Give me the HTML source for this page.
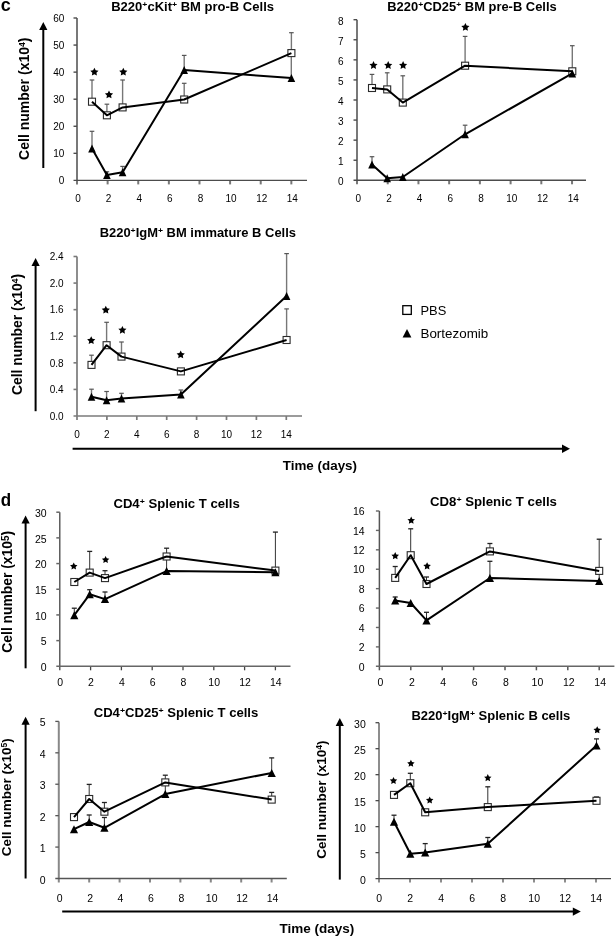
<!DOCTYPE html>
<html><head><meta charset="utf-8"><title>Figure</title>
<style>
html,body{margin:0;padding:0;background:#fff;}
body{width:616px;height:937px;overflow:hidden;}
svg{display:block;filter:blur(0.3px);}
text{font-family:"Liberation Sans", sans-serif;fill:#000;}
.tk{font-size:10px;}
.ti{font-size:12px;font-weight:bold;}
.sp{font-size:8px;}
.yl{font-size:13px;font-weight:bold;}
.se{font-size:8.5px;}
.pl{font-size:18px;font-weight:bold;}
.tt{font-size:13px;font-weight:bold;}
.lg{font-size:13.5px;}
</style></head>
<body>
<svg width="616" height="937" viewBox="0 0 616 937">
<rect width="616" height="937" fill="#fff"/>
<text x="0.7" y="10.7" class="pl">c</text>
<text x="0.7" y="505.7" class="pl" textLength="10.4" lengthAdjust="spacingAndGlyphs">d</text>
<g stroke="#787878" stroke-width="2" fill="none">
<path d="M77 18 V184.4"/>
<path d="M107.62 180.4 V184.4"/>
<path d="M138.24 180.4 V184.4"/>
<path d="M168.86 180.4 V184.4"/>
<path d="M199.48 180.4 V184.4"/>
<path d="M230.1 180.4 V184.4"/>
<path d="M260.72 180.4 V184.4"/>
<path d="M291.34 180.4 V184.4"/>
</g>
<g stroke="#4c4c4c" stroke-width="1.4" fill="none">
<path d="M73.5 180.4 H307"/>
<path d="M73.5 153.33 H77"/>
<path d="M73.5 126.27 H77"/>
<path d="M73.5 99.2 H77"/>
<path d="M73.5 72.13 H77"/>
<path d="M73.5 45.07 H77"/>
<path d="M73.5 18 H77"/>
</g>
<text x="64.3" y="184.2" text-anchor="end" class="tk" style="font-size:10px">0</text>
<text x="64.3" y="157.13" text-anchor="end" class="tk" style="font-size:10px">10</text>
<text x="64.3" y="130.07" text-anchor="end" class="tk" style="font-size:10px">20</text>
<text x="64.3" y="103" text-anchor="end" class="tk" style="font-size:10px">30</text>
<text x="64.3" y="75.93" text-anchor="end" class="tk" style="font-size:10px">40</text>
<text x="64.3" y="48.87" text-anchor="end" class="tk" style="font-size:10px">50</text>
<text x="64.3" y="21.8" text-anchor="end" class="tk" style="font-size:10px">60</text>
<text x="78" y="202" text-anchor="middle" class="tk" style="font-size:10px">0</text>
<text x="108.62" y="202" text-anchor="middle" class="tk" style="font-size:10px">2</text>
<text x="139.24" y="202" text-anchor="middle" class="tk" style="font-size:10px">4</text>
<text x="169.86" y="202" text-anchor="middle" class="tk" style="font-size:10px">6</text>
<text x="200.48" y="202" text-anchor="middle" class="tk" style="font-size:10px">8</text>
<text x="231.1" y="202" text-anchor="middle" class="tk" style="font-size:10px">10</text>
<text x="261.72" y="202" text-anchor="middle" class="tk" style="font-size:10px">12</text>
<text x="292.34" y="202" text-anchor="middle" class="tk" style="font-size:10px">14</text>
<line x1="92" y1="101.7" x2="92" y2="80" stroke="#777" stroke-width="1.4"/><line x1="89.7" y1="80" x2="94.3" y2="80" stroke="#555" stroke-width="1.2"/>
<line x1="106.9" y1="115.3" x2="106.9" y2="104.2" stroke="#777" stroke-width="1.4"/><line x1="104.6" y1="104.2" x2="109.2" y2="104.2" stroke="#555" stroke-width="1.2"/>
<line x1="122.6" y1="107.4" x2="122.6" y2="80" stroke="#777" stroke-width="1.4"/><line x1="120.3" y1="80" x2="124.9" y2="80" stroke="#555" stroke-width="1.2"/>
<line x1="184.2" y1="99.5" x2="184.2" y2="83.3" stroke="#777" stroke-width="1.4"/><line x1="181.9" y1="83.3" x2="186.5" y2="83.3" stroke="#555" stroke-width="1.2"/>
<line x1="291.4" y1="53.1" x2="291.4" y2="32.7" stroke="#777" stroke-width="1.4"/><line x1="289.1" y1="32.7" x2="293.7" y2="32.7" stroke="#555" stroke-width="1.2"/>
<line x1="92" y1="148.6" x2="92" y2="131.3" stroke="#777" stroke-width="1.4"/><line x1="89.7" y1="131.3" x2="94.3" y2="131.3" stroke="#555" stroke-width="1.2"/>
<line x1="106.9" y1="175.1" x2="106.9" y2="171.8" stroke="#777" stroke-width="1.4"/><line x1="104.6" y1="171.8" x2="109.2" y2="171.8" stroke="#555" stroke-width="1.2"/>
<line x1="122.6" y1="172.3" x2="122.6" y2="166.4" stroke="#777" stroke-width="1.4"/><line x1="120.3" y1="166.4" x2="124.9" y2="166.4" stroke="#555" stroke-width="1.2"/>
<line x1="184.2" y1="70" x2="184.2" y2="55.4" stroke="#777" stroke-width="1.4"/><line x1="181.9" y1="55.4" x2="186.5" y2="55.4" stroke="#555" stroke-width="1.2"/>
<line x1="291.3" y1="53" x2="291.3" y2="76" stroke="#777" stroke-width="1.4"/>
<rect x="88.5" y="98.2" width="7" height="7" fill="#fff" stroke="#2a2a2a" stroke-width="1.1"/>
<rect x="103.4" y="111.8" width="7" height="7" fill="#fff" stroke="#2a2a2a" stroke-width="1.1"/>
<rect x="119.1" y="103.9" width="7" height="7" fill="#fff" stroke="#2a2a2a" stroke-width="1.1"/>
<rect x="180.7" y="96" width="7" height="7" fill="#fff" stroke="#2a2a2a" stroke-width="1.1"/>
<rect x="287.9" y="49.6" width="7" height="7" fill="#fff" stroke="#2a2a2a" stroke-width="1.1"/>
<polyline points="92,101.7 106.9,115.3 122.6,107.4 184.2,99.5 291.4,53.1" fill="none" stroke="#000" stroke-width="2" stroke-linejoin="round"/>
<polyline points="92,148.6 106.9,175.1 122.6,172.3 184.2,70 291.4,78" fill="none" stroke="#000" stroke-width="2" stroke-linejoin="round"/>
<polygon points="92,144.6 88.2,152.6 95.8,152.6" fill="#000"/>
<polygon points="106.9,171.1 103.1,179.1 110.7,179.1" fill="#000"/>
<polygon points="122.6,168.3 118.8,176.3 126.4,176.3" fill="#000"/>
<polygon points="184.2,66 180.4,74 188,74" fill="#000"/>
<polygon points="291.4,74 287.6,82 295.2,82" fill="#000"/>
<polygon points="94.4,67.7 95.66,70.26 98.49,70.67 96.44,72.66 96.93,75.48 94.4,74.15 91.87,75.48 92.36,72.66 90.31,70.67 93.14,70.26" fill="#000"/>
<polygon points="109,90.5 110.26,93.06 113.09,93.47 111.04,95.46 111.53,98.28 109,96.95 106.47,98.28 106.96,95.46 104.91,93.47 107.74,93.06" fill="#000"/>
<polygon points="123.3,67.7 124.56,70.26 127.39,70.67 125.34,72.66 125.83,75.48 123.3,74.15 120.77,75.48 121.26,72.66 119.21,70.67 122.04,70.26" fill="#000"/>
<text x="111.2" y="11" class="ti" textLength="162.8" lengthAdjust="spacingAndGlyphs">B220<tspan class="sp" dy="-4">+</tspan><tspan dy="4">cKit</tspan><tspan class="sp" dy="-4">+</tspan><tspan dy="4"> BM pro-B Cells</tspan></text>
<g stroke="#787878" stroke-width="2" fill="none">
<path d="M357 19.7 V184.3"/>
<path d="M387.72 180.3 V184.3"/>
<path d="M418.44 180.3 V184.3"/>
<path d="M449.16 180.3 V184.3"/>
<path d="M479.88 180.3 V184.3"/>
<path d="M510.6 180.3 V184.3"/>
<path d="M541.32 180.3 V184.3"/>
<path d="M572.04 180.3 V184.3"/>
</g>
<g stroke="#4c4c4c" stroke-width="1.4" fill="none">
<path d="M353.5 180.3 H586"/>
<path d="M353.5 160.23 H357"/>
<path d="M353.5 140.15 H357"/>
<path d="M353.5 120.08 H357"/>
<path d="M353.5 100 H357"/>
<path d="M353.5 79.92 H357"/>
<path d="M353.5 59.85 H357"/>
<path d="M353.5 39.77 H357"/>
<path d="M353.5 19.7 H357"/>
</g>
<text x="343.5" y="185.4" text-anchor="end" class="tk" style="font-size:10px">0</text>
<text x="343.5" y="165.33" text-anchor="end" class="tk" style="font-size:10px">1</text>
<text x="343.5" y="145.25" text-anchor="end" class="tk" style="font-size:10px">2</text>
<text x="343.5" y="125.17" text-anchor="end" class="tk" style="font-size:10px">3</text>
<text x="343.5" y="105.1" text-anchor="end" class="tk" style="font-size:10px">4</text>
<text x="343.5" y="85.02" text-anchor="end" class="tk" style="font-size:10px">5</text>
<text x="343.5" y="64.95" text-anchor="end" class="tk" style="font-size:10px">6</text>
<text x="343.5" y="44.87" text-anchor="end" class="tk" style="font-size:10px">7</text>
<text x="343.5" y="24.8" text-anchor="end" class="tk" style="font-size:10px">8</text>
<text x="358.2" y="201.8" text-anchor="middle" class="tk" style="font-size:10px">0</text>
<text x="388.92" y="201.8" text-anchor="middle" class="tk" style="font-size:10px">2</text>
<text x="419.64" y="201.8" text-anchor="middle" class="tk" style="font-size:10px">4</text>
<text x="450.36" y="201.8" text-anchor="middle" class="tk" style="font-size:10px">6</text>
<text x="481.08" y="201.8" text-anchor="middle" class="tk" style="font-size:10px">8</text>
<text x="511.8" y="201.8" text-anchor="middle" class="tk" style="font-size:10px">10</text>
<text x="542.52" y="201.8" text-anchor="middle" class="tk" style="font-size:10px">12</text>
<text x="573.24" y="201.8" text-anchor="middle" class="tk" style="font-size:10px">14</text>
<line x1="372" y1="88" x2="372" y2="74.4" stroke="#777" stroke-width="1.4"/><line x1="369.7" y1="74.4" x2="374.3" y2="74.4" stroke="#555" stroke-width="1.2"/>
<line x1="387.2" y1="89.4" x2="387.2" y2="72.8" stroke="#777" stroke-width="1.4"/><line x1="384.9" y1="72.8" x2="389.5" y2="72.8" stroke="#555" stroke-width="1.2"/>
<line x1="402.8" y1="102.6" x2="402.8" y2="75.8" stroke="#777" stroke-width="1.4"/><line x1="400.5" y1="75.8" x2="405.1" y2="75.8" stroke="#555" stroke-width="1.2"/>
<line x1="465.1" y1="65.7" x2="465.1" y2="36.4" stroke="#777" stroke-width="1.4"/><line x1="462.8" y1="36.4" x2="467.4" y2="36.4" stroke="#555" stroke-width="1.2"/>
<line x1="572.3" y1="71.3" x2="572.3" y2="45.7" stroke="#777" stroke-width="1.4"/><line x1="570" y1="45.7" x2="574.6" y2="45.7" stroke="#555" stroke-width="1.2"/>
<line x1="372" y1="164.6" x2="372" y2="156.7" stroke="#777" stroke-width="1.4"/><line x1="369.7" y1="156.7" x2="374.3" y2="156.7" stroke="#555" stroke-width="1.2"/>
<line x1="465.1" y1="134.3" x2="465.1" y2="125.2" stroke="#777" stroke-width="1.4"/><line x1="462.8" y1="125.2" x2="467.4" y2="125.2" stroke="#555" stroke-width="1.2"/>
<rect x="368.5" y="84.5" width="7" height="7" fill="#fff" stroke="#2a2a2a" stroke-width="1.1"/>
<rect x="383.7" y="85.9" width="7" height="7" fill="#fff" stroke="#2a2a2a" stroke-width="1.1"/>
<rect x="399.3" y="99.1" width="7" height="7" fill="#fff" stroke="#2a2a2a" stroke-width="1.1"/>
<rect x="461.6" y="62.2" width="7" height="7" fill="#fff" stroke="#2a2a2a" stroke-width="1.1"/>
<rect x="568.8" y="67.8" width="7" height="7" fill="#fff" stroke="#2a2a2a" stroke-width="1.1"/>
<polyline points="372,88 387.2,89.4 402.8,102.6 465.1,65.7 572.3,71.3" fill="none" stroke="#000" stroke-width="2" stroke-linejoin="round"/>
<polyline points="372,164.6 387.2,178.2 402.8,177 465.1,134.3 572.3,73.4" fill="none" stroke="#000" stroke-width="2" stroke-linejoin="round"/>
<polygon points="372,160.6 368.2,168.6 375.8,168.6" fill="#000"/>
<polygon points="387.2,174.2 383.4,182.2 391,182.2" fill="#000"/>
<polygon points="402.8,173 399,181 406.6,181" fill="#000"/>
<polygon points="465.1,130.3 461.3,138.3 468.9,138.3" fill="#000"/>
<polygon points="572.3,69.4 568.5,77.4 576.1,77.4" fill="#000"/>
<polygon points="373.5,61.1 374.76,63.66 377.59,64.07 375.54,66.06 376.03,68.88 373.5,67.55 370.97,68.88 371.46,66.06 369.41,64.07 372.24,63.66" fill="#000"/>
<polygon points="388.2,61.1 389.46,63.66 392.29,64.07 390.24,66.06 390.73,68.88 388.2,67.55 385.67,68.88 386.16,66.06 384.11,64.07 386.94,63.66" fill="#000"/>
<polygon points="403.1,61.1 404.36,63.66 407.19,64.07 405.14,66.06 405.63,68.88 403.1,67.55 400.57,68.88 401.06,66.06 399.01,64.07 401.84,63.66" fill="#000"/>
<polygon points="465.4,23 466.66,25.56 469.49,25.97 467.44,27.96 467.93,30.78 465.4,29.45 462.87,30.78 463.36,27.96 461.31,25.97 464.14,25.56" fill="#000"/>
<text x="387.3" y="11" class="ti" textLength="169.4" lengthAdjust="spacingAndGlyphs">B220<tspan class="sp" dy="-4">+</tspan><tspan dy="4">CD25</tspan><tspan class="sp" dy="-4">+</tspan><tspan dy="4"> BM pre-B Cells</tspan></text>
<g stroke="#7a7a7a" stroke-width="1.7" fill="none">
<path d="M77 256.5 V420"/>
<path d="M106.9 416 V420"/>
<path d="M136.8 416 V420"/>
<path d="M166.7 416 V420"/>
<path d="M196.6 416 V420"/>
<path d="M226.5 416 V420"/>
<path d="M256.4 416 V420"/>
<path d="M286.3 416 V420"/>
</g>
<g stroke="#7a7a7a" stroke-width="1.6" fill="none">
<path d="M73.5 416 H302"/>
<path d="M73.5 389.42 H77"/>
<path d="M73.5 362.83 H77"/>
<path d="M73.5 336.25 H77"/>
<path d="M73.5 309.67 H77"/>
<path d="M73.5 283.08 H77"/>
<path d="M73.5 256.5 H77"/>
</g>
<text x="63.6" y="419.8" text-anchor="end" class="tk" style="font-size:10px">0.0</text>
<text x="63.6" y="393.22" text-anchor="end" class="tk" style="font-size:10px">0.4</text>
<text x="63.6" y="366.63" text-anchor="end" class="tk" style="font-size:10px">0.8</text>
<text x="63.6" y="340.05" text-anchor="end" class="tk" style="font-size:10px">1.2</text>
<text x="63.6" y="313.47" text-anchor="end" class="tk" style="font-size:10px">1.6</text>
<text x="63.6" y="286.88" text-anchor="end" class="tk" style="font-size:10px">2.0</text>
<text x="63.6" y="260.3" text-anchor="end" class="tk" style="font-size:10px">2.4</text>
<text x="77" y="438.1" text-anchor="middle" class="tk" style="font-size:10px">0</text>
<text x="106.9" y="438.1" text-anchor="middle" class="tk" style="font-size:10px">2</text>
<text x="136.8" y="438.1" text-anchor="middle" class="tk" style="font-size:10px">4</text>
<text x="166.7" y="438.1" text-anchor="middle" class="tk" style="font-size:10px">6</text>
<text x="196.6" y="438.1" text-anchor="middle" class="tk" style="font-size:10px">8</text>
<text x="226.5" y="438.1" text-anchor="middle" class="tk" style="font-size:10px">10</text>
<text x="256.4" y="438.1" text-anchor="middle" class="tk" style="font-size:10px">12</text>
<text x="286.3" y="438.1" text-anchor="middle" class="tk" style="font-size:10px">14</text>
<line x1="91.5" y1="364.9" x2="91.5" y2="355.2" stroke="#777" stroke-width="1.4"/><line x1="89.2" y1="355.2" x2="93.8" y2="355.2" stroke="#555" stroke-width="1.2"/>
<line x1="106.6" y1="345.2" x2="106.6" y2="322.3" stroke="#777" stroke-width="1.4"/><line x1="104.3" y1="322.3" x2="108.9" y2="322.3" stroke="#555" stroke-width="1.2"/>
<line x1="121.5" y1="356.6" x2="121.5" y2="342" stroke="#777" stroke-width="1.4"/><line x1="119.2" y1="342" x2="123.8" y2="342" stroke="#555" stroke-width="1.2"/>
<line x1="286.6" y1="340" x2="286.6" y2="308.9" stroke="#777" stroke-width="1.4"/><line x1="284.3" y1="308.9" x2="288.9" y2="308.9" stroke="#555" stroke-width="1.2"/>
<line x1="91.5" y1="396.8" x2="91.5" y2="389.2" stroke="#777" stroke-width="1.4"/><line x1="89.2" y1="389.2" x2="93.8" y2="389.2" stroke="#555" stroke-width="1.2"/>
<line x1="106.6" y1="400.3" x2="106.6" y2="391.5" stroke="#777" stroke-width="1.4"/><line x1="104.3" y1="391.5" x2="108.9" y2="391.5" stroke="#555" stroke-width="1.2"/>
<line x1="121.5" y1="398.5" x2="121.5" y2="393.3" stroke="#777" stroke-width="1.4"/><line x1="119.2" y1="393.3" x2="123.8" y2="393.3" stroke="#555" stroke-width="1.2"/>
<line x1="180.9" y1="394.5" x2="180.9" y2="390" stroke="#777" stroke-width="1.4"/><line x1="178.6" y1="390" x2="183.2" y2="390" stroke="#555" stroke-width="1.2"/>
<line x1="286.6" y1="296.1" x2="286.6" y2="253.6" stroke="#777" stroke-width="1.4"/><line x1="284.3" y1="253.6" x2="288.9" y2="253.6" stroke="#555" stroke-width="1.2"/>
<rect x="88" y="361.4" width="7" height="7" fill="#fff" stroke="#2a2a2a" stroke-width="1.1"/>
<rect x="103.1" y="341.7" width="7" height="7" fill="#fff" stroke="#2a2a2a" stroke-width="1.1"/>
<rect x="118" y="353.1" width="7" height="7" fill="#fff" stroke="#2a2a2a" stroke-width="1.1"/>
<rect x="177.4" y="367.9" width="7" height="7" fill="#fff" stroke="#2a2a2a" stroke-width="1.1"/>
<rect x="283.1" y="336.5" width="7" height="7" fill="#fff" stroke="#2a2a2a" stroke-width="1.1"/>
<polyline points="91.5,364.9 106.6,345.2 121.5,356.6 180.9,371.4 286.6,340" fill="none" stroke="#000" stroke-width="2" stroke-linejoin="round"/>
<polyline points="91.5,396.8 106.6,400.3 121.5,398.5 180.9,394.5 286.6,296.1" fill="none" stroke="#000" stroke-width="2" stroke-linejoin="round"/>
<polygon points="91.5,392.8 87.7,400.8 95.3,400.8" fill="#000"/>
<polygon points="106.6,396.3 102.8,404.3 110.4,404.3" fill="#000"/>
<polygon points="121.5,394.5 117.7,402.5 125.3,402.5" fill="#000"/>
<polygon points="180.9,390.5 177.1,398.5 184.7,398.5" fill="#000"/>
<polygon points="286.6,292.1 282.8,300.1 290.4,300.1" fill="#000"/>
<polygon points="91.2,336.3 92.46,338.86 95.29,339.27 93.24,341.26 93.73,344.08 91.2,342.75 88.67,344.08 89.16,341.26 87.11,339.27 89.94,338.86" fill="#000"/>
<polygon points="105.8,305.8 107.06,308.36 109.89,308.77 107.84,310.76 108.33,313.58 105.8,312.25 103.27,313.58 103.76,310.76 101.71,308.77 104.54,308.36" fill="#000"/>
<polygon points="122.4,325.9 123.66,328.46 126.49,328.87 124.44,330.86 124.93,333.68 122.4,332.35 119.87,333.68 120.36,330.86 118.31,328.87 121.14,328.46" fill="#000"/>
<polygon points="180.7,350.5 181.96,353.06 184.79,353.47 182.74,355.46 183.23,358.28 180.7,356.95 178.17,358.28 178.66,355.46 176.61,353.47 179.44,353.06" fill="#000"/>
<text x="99.7" y="236.5" class="ti" textLength="196.3" lengthAdjust="spacingAndGlyphs">B220<tspan class="sp" dy="-4">+</tspan><tspan dy="4">IgM</tspan><tspan class="sp" dy="-4">+</tspan><tspan dy="4"> BM immature B Cells</tspan></text>
<g stroke="#454545" stroke-width="1.3" fill="none">
<path d="M59.8 512.2 V670.3"/>
<path d="M90.6 666.3 V670.3"/>
<path d="M121.4 666.3 V670.3"/>
<path d="M152.2 666.3 V670.3"/>
<path d="M183 666.3 V670.3"/>
<path d="M213.8 666.3 V670.3"/>
<path d="M244.6 666.3 V670.3"/>
<path d="M275.4 666.3 V670.3"/>
</g>
<g stroke="#666" stroke-width="1.5" fill="none">
<path d="M56.3 666.3 H290.5"/>
<path d="M56.3 640.62 H59.8"/>
<path d="M56.3 614.93 H59.8"/>
<path d="M56.3 589.25 H59.8"/>
<path d="M56.3 563.57 H59.8"/>
<path d="M56.3 537.88 H59.8"/>
<path d="M56.3 512.2 H59.8"/>
</g>
<text x="46.6" y="671.15" text-anchor="end" class="tk" style="font-size:10.5px">0</text>
<text x="46.6" y="645.47" text-anchor="end" class="tk" style="font-size:10.5px">5</text>
<text x="46.6" y="619.78" text-anchor="end" class="tk" style="font-size:10.5px">10</text>
<text x="46.6" y="594.1" text-anchor="end" class="tk" style="font-size:10.5px">15</text>
<text x="46.6" y="568.42" text-anchor="end" class="tk" style="font-size:10.5px">20</text>
<text x="46.6" y="542.73" text-anchor="end" class="tk" style="font-size:10.5px">25</text>
<text x="46.6" y="517.05" text-anchor="end" class="tk" style="font-size:10.5px">30</text>
<text x="60.2" y="686" text-anchor="middle" class="tk" style="font-size:10.5px">0</text>
<text x="91" y="686" text-anchor="middle" class="tk" style="font-size:10.5px">2</text>
<text x="121.8" y="686" text-anchor="middle" class="tk" style="font-size:10.5px">4</text>
<text x="152.6" y="686" text-anchor="middle" class="tk" style="font-size:10.5px">6</text>
<text x="183.4" y="686" text-anchor="middle" class="tk" style="font-size:10.5px">8</text>
<text x="214.2" y="686" text-anchor="middle" class="tk" style="font-size:10.5px">10</text>
<text x="245" y="686" text-anchor="middle" class="tk" style="font-size:10.5px">12</text>
<text x="275.8" y="686" text-anchor="middle" class="tk" style="font-size:10.5px">14</text>
<line x1="89.7" y1="572.6" x2="89.7" y2="551.4" stroke="#333" stroke-width="1.0"/><line x1="87.2" y1="551.4" x2="92.2" y2="551.4" stroke="#222" stroke-width="1.3"/>
<line x1="105" y1="578.1" x2="105" y2="570.7" stroke="#333" stroke-width="1.0"/><line x1="102.5" y1="570.7" x2="107.5" y2="570.7" stroke="#222" stroke-width="1.3"/>
<line x1="166.6" y1="556.5" x2="166.6" y2="548.2" stroke="#333" stroke-width="1.0"/><line x1="164.1" y1="548.2" x2="169.1" y2="548.2" stroke="#222" stroke-width="1.3"/>
<line x1="275.4" y1="570.6" x2="275.4" y2="532.1" stroke="#333" stroke-width="1.0"/><line x1="272.9" y1="532.1" x2="277.9" y2="532.1" stroke="#222" stroke-width="1.3"/>
<line x1="74.3" y1="615.2" x2="74.3" y2="608.2" stroke="#333" stroke-width="1.0"/><line x1="71.8" y1="608.2" x2="76.8" y2="608.2" stroke="#222" stroke-width="1.3"/>
<line x1="89.7" y1="594.3" x2="89.7" y2="589.7" stroke="#333" stroke-width="1.0"/><line x1="87.2" y1="589.7" x2="92.2" y2="589.7" stroke="#222" stroke-width="1.3"/>
<line x1="105" y1="599.1" x2="105" y2="592" stroke="#333" stroke-width="1.0"/><line x1="102.5" y1="592" x2="107.5" y2="592" stroke="#222" stroke-width="1.3"/>
<line x1="166.6" y1="556.5" x2="166.6" y2="570" stroke="#333" stroke-width="1.0"/>
<rect x="70.8" y="578.5" width="7" height="7" fill="#fff" stroke="#2a2a2a" stroke-width="1.1"/>
<rect x="86.2" y="569.1" width="7" height="7" fill="#fff" stroke="#2a2a2a" stroke-width="1.1"/>
<rect x="101.5" y="574.6" width="7" height="7" fill="#fff" stroke="#2a2a2a" stroke-width="1.1"/>
<rect x="163.1" y="553" width="7" height="7" fill="#fff" stroke="#2a2a2a" stroke-width="1.1"/>
<rect x="271.9" y="567.1" width="7" height="7" fill="#fff" stroke="#2a2a2a" stroke-width="1.1"/>
<polyline points="74.3,582 89.7,572.6 105,578.1 166.6,556.5 275.4,570.6" fill="none" stroke="#000" stroke-width="2" stroke-linejoin="round"/>
<polyline points="74.3,615.2 89.7,594.3 105,599.1 166.6,571.1 275.4,572.3" fill="none" stroke="#000" stroke-width="2" stroke-linejoin="round"/>
<polygon points="74.3,611.2 70.2,619.2 78.4,619.2" fill="#000"/>
<polygon points="89.7,590.3 85.6,598.3 93.8,598.3" fill="#000"/>
<polygon points="105,595.1 100.9,603.1 109.1,603.1" fill="#000"/>
<polygon points="166.6,567.1 162.5,575.1 170.7,575.1" fill="#000"/>
<polygon points="275.4,568.3 271.3,576.3 279.5,576.3" fill="#000"/>
<polygon points="73.75,562.5 74.9,564.82 77.46,565.19 75.6,567 76.04,569.56 73.75,568.35 71.46,569.56 71.9,567 70.04,565.19 72.6,564.82" fill="#000"/>
<polygon points="105.6,556 106.75,558.32 109.31,558.69 107.45,560.5 107.89,563.06 105.6,561.85 103.31,563.06 103.75,560.5 101.89,558.69 104.45,558.32" fill="#000"/>
<text x="113.4" y="507.7" class="ti" textLength="126.3" lengthAdjust="spacingAndGlyphs">CD4<tspan class="sp" dy="-4">+</tspan><tspan dy="4"> Splenic T cells</tspan></text>
<g stroke="#555" stroke-width="1.5" fill="none">
<path d="M379.4 511 V670.3"/>
<path d="M410.8 666.3 V670.3"/>
<path d="M442.2 666.3 V670.3"/>
<path d="M473.6 666.3 V670.3"/>
<path d="M505 666.3 V670.3"/>
<path d="M536.4 666.3 V670.3"/>
<path d="M567.8 666.3 V670.3"/>
<path d="M599.2 666.3 V670.3"/>
</g>
<g stroke="#666" stroke-width="1.4" fill="none">
<path d="M375.9 666.3 H614.4"/>
<path d="M375.9 646.89 H379.4"/>
<path d="M375.9 627.47 H379.4"/>
<path d="M375.9 608.06 H379.4"/>
<path d="M375.9 588.65 H379.4"/>
<path d="M375.9 569.24 H379.4"/>
<path d="M375.9 549.83 H379.4"/>
<path d="M375.9 530.41 H379.4"/>
<path d="M375.9 511 H379.4"/>
</g>
<text x="364.7" y="670.5" text-anchor="end" class="tk" style="font-size:10.5px">0</text>
<text x="364.7" y="651.09" text-anchor="end" class="tk" style="font-size:10.5px">2</text>
<text x="364.7" y="631.67" text-anchor="end" class="tk" style="font-size:10.5px">4</text>
<text x="364.7" y="612.26" text-anchor="end" class="tk" style="font-size:10.5px">6</text>
<text x="364.7" y="592.85" text-anchor="end" class="tk" style="font-size:10.5px">8</text>
<text x="364.7" y="573.44" text-anchor="end" class="tk" style="font-size:10.5px">10</text>
<text x="364.7" y="554.03" text-anchor="end" class="tk" style="font-size:10.5px">12</text>
<text x="364.7" y="534.61" text-anchor="end" class="tk" style="font-size:10.5px">14</text>
<text x="364.7" y="515.2" text-anchor="end" class="tk" style="font-size:10.5px">16</text>
<text x="380.4" y="686" text-anchor="middle" class="tk" style="font-size:10.5px">0</text>
<text x="411.8" y="686" text-anchor="middle" class="tk" style="font-size:10.5px">2</text>
<text x="443.2" y="686" text-anchor="middle" class="tk" style="font-size:10.5px">4</text>
<text x="474.6" y="686" text-anchor="middle" class="tk" style="font-size:10.5px">6</text>
<text x="506" y="686" text-anchor="middle" class="tk" style="font-size:10.5px">8</text>
<text x="537.4" y="686" text-anchor="middle" class="tk" style="font-size:10.5px">10</text>
<text x="568.8" y="686" text-anchor="middle" class="tk" style="font-size:10.5px">12</text>
<text x="600.2" y="686" text-anchor="middle" class="tk" style="font-size:10.5px">14</text>
<line x1="395.2" y1="577.9" x2="395.2" y2="566.5" stroke="#333" stroke-width="1.0"/><line x1="392.7" y1="566.5" x2="397.7" y2="566.5" stroke="#222" stroke-width="1.3"/>
<line x1="410.7" y1="555.2" x2="410.7" y2="528.8" stroke="#333" stroke-width="1.0"/><line x1="408.2" y1="528.8" x2="413.2" y2="528.8" stroke="#222" stroke-width="1.3"/>
<line x1="426.5" y1="584" x2="426.5" y2="577" stroke="#333" stroke-width="1.0"/><line x1="424" y1="577" x2="429" y2="577" stroke="#222" stroke-width="1.3"/>
<line x1="489.9" y1="551.4" x2="489.9" y2="543.5" stroke="#333" stroke-width="1.0"/><line x1="487.4" y1="543.5" x2="492.4" y2="543.5" stroke="#222" stroke-width="1.3"/>
<line x1="599.2" y1="570.9" x2="599.2" y2="539.2" stroke="#333" stroke-width="1.0"/><line x1="596.7" y1="539.2" x2="601.7" y2="539.2" stroke="#222" stroke-width="1.3"/>
<line x1="395.2" y1="600.6" x2="395.2" y2="597" stroke="#333" stroke-width="1.0"/><line x1="392.7" y1="597" x2="397.7" y2="597" stroke="#222" stroke-width="1.3"/>
<line x1="426.5" y1="620.4" x2="426.5" y2="612.3" stroke="#333" stroke-width="1.0"/><line x1="424" y1="612.3" x2="429" y2="612.3" stroke="#222" stroke-width="1.3"/>
<line x1="489.9" y1="578" x2="489.9" y2="561.3" stroke="#333" stroke-width="1.0"/><line x1="487.4" y1="561.3" x2="492.4" y2="561.3" stroke="#222" stroke-width="1.3"/>
<line x1="599.2" y1="571" x2="599.2" y2="580" stroke="#333" stroke-width="1.0"/>
<rect x="391.7" y="574.4" width="7" height="7" fill="#fff" stroke="#2a2a2a" stroke-width="1.1"/>
<rect x="407.2" y="551.7" width="7" height="7" fill="#fff" stroke="#2a2a2a" stroke-width="1.1"/>
<rect x="423" y="580.5" width="7" height="7" fill="#fff" stroke="#2a2a2a" stroke-width="1.1"/>
<rect x="486.4" y="547.9" width="7" height="7" fill="#fff" stroke="#2a2a2a" stroke-width="1.1"/>
<rect x="595.7" y="567.4" width="7" height="7" fill="#fff" stroke="#2a2a2a" stroke-width="1.1"/>
<polyline points="395.2,577.9 410.7,555.2 426.5,584 489.9,551.4 599.2,570.9" fill="none" stroke="#000" stroke-width="2" stroke-linejoin="round"/>
<polyline points="395.2,600.6 410.7,603 426.5,620.4 489.9,578 599.2,581" fill="none" stroke="#000" stroke-width="2" stroke-linejoin="round"/>
<polygon points="395.2,596.6 391.1,604.6 399.3,604.6" fill="#000"/>
<polygon points="410.7,599 406.6,607 414.8,607" fill="#000"/>
<polygon points="426.5,616.4 422.4,624.4 430.6,624.4" fill="#000"/>
<polygon points="489.9,574 485.8,582 494,582" fill="#000"/>
<polygon points="599.2,577 595.1,585 603.3,585" fill="#000"/>
<polygon points="395.2,552.1 396.38,554.48 399,554.86 397.1,556.72 397.55,559.34 395.2,558.1 392.85,559.34 393.3,556.72 391.4,554.86 394.02,554.48" fill="#000"/>
<polygon points="411.2,516.5 412.38,518.88 415,519.26 413.1,521.12 413.55,523.74 411.2,522.5 408.85,523.74 409.3,521.12 407.4,519.26 410.02,518.88" fill="#000"/>
<polygon points="427.1,562.2 428.28,564.58 430.9,564.96 429,566.82 429.45,569.44 427.1,568.2 424.75,569.44 425.2,566.82 423.3,564.96 425.92,564.58" fill="#000"/>
<text x="430" y="506.1" class="ti" textLength="126.9" lengthAdjust="spacingAndGlyphs">CD8<tspan class="sp" dy="-4">+</tspan><tspan dy="4"> Splenic T cells</tspan></text>
<g stroke="#888" stroke-width="2" fill="none">
<path d="M58.8 721.4 V882.5"/>
<path d="M89.2 878.5 V882.5"/>
<path d="M119.6 878.5 V882.5"/>
<path d="M150 878.5 V882.5"/>
<path d="M180.4 878.5 V882.5"/>
<path d="M210.8 878.5 V882.5"/>
<path d="M241.2 878.5 V882.5"/>
<path d="M271.6 878.5 V882.5"/>
</g>
<g stroke="#555" stroke-width="1.3" fill="none">
<path d="M55.3 878.5 H286.8"/>
<path d="M55.3 847.08 H58.8"/>
<path d="M55.3 815.66 H58.8"/>
<path d="M55.3 784.24 H58.8"/>
<path d="M55.3 752.82 H58.8"/>
<path d="M55.3 721.4 H58.8"/>
</g>
<text x="45.5" y="883.5" text-anchor="end" class="tk" style="font-size:10.5px">0</text>
<text x="45.5" y="852.08" text-anchor="end" class="tk" style="font-size:10.5px">1</text>
<text x="45.5" y="820.66" text-anchor="end" class="tk" style="font-size:10.5px">2</text>
<text x="45.5" y="789.24" text-anchor="end" class="tk" style="font-size:10.5px">3</text>
<text x="45.5" y="757.82" text-anchor="end" class="tk" style="font-size:10.5px">4</text>
<text x="45.5" y="726.4" text-anchor="end" class="tk" style="font-size:10.5px">5</text>
<text x="59.7" y="902" text-anchor="middle" class="tk" style="font-size:10.5px">0</text>
<text x="90.1" y="902" text-anchor="middle" class="tk" style="font-size:10.5px">2</text>
<text x="120.5" y="902" text-anchor="middle" class="tk" style="font-size:10.5px">4</text>
<text x="150.9" y="902" text-anchor="middle" class="tk" style="font-size:10.5px">6</text>
<text x="181.3" y="902" text-anchor="middle" class="tk" style="font-size:10.5px">8</text>
<text x="211.7" y="902" text-anchor="middle" class="tk" style="font-size:10.5px">10</text>
<text x="242.1" y="902" text-anchor="middle" class="tk" style="font-size:10.5px">12</text>
<text x="272.5" y="902" text-anchor="middle" class="tk" style="font-size:10.5px">14</text>
<line x1="89.2" y1="799" x2="89.2" y2="784.4" stroke="#333" stroke-width="1.0"/><line x1="86.7" y1="784.4" x2="91.7" y2="784.4" stroke="#222" stroke-width="1.3"/>
<line x1="104.4" y1="811.7" x2="104.4" y2="802.5" stroke="#333" stroke-width="1.0"/><line x1="101.9" y1="802.5" x2="106.9" y2="802.5" stroke="#222" stroke-width="1.3"/>
<line x1="165.3" y1="782.4" x2="165.3" y2="775.2" stroke="#333" stroke-width="1.0"/><line x1="162.8" y1="775.2" x2="167.8" y2="775.2" stroke="#222" stroke-width="1.3"/>
<line x1="271.7" y1="799.6" x2="271.7" y2="792.4" stroke="#333" stroke-width="1.0"/><line x1="269.2" y1="792.4" x2="274.2" y2="792.4" stroke="#222" stroke-width="1.3"/>
<line x1="89.2" y1="822" x2="89.2" y2="815" stroke="#333" stroke-width="1.0"/><line x1="86.7" y1="815" x2="91.7" y2="815" stroke="#222" stroke-width="1.3"/>
<line x1="104.4" y1="827.8" x2="104.4" y2="817.5" stroke="#333" stroke-width="1.0"/><line x1="101.9" y1="817.5" x2="106.9" y2="817.5" stroke="#222" stroke-width="1.3"/>
<line x1="271.7" y1="772.9" x2="271.7" y2="757.9" stroke="#333" stroke-width="1.0"/><line x1="269.2" y1="757.9" x2="274.2" y2="757.9" stroke="#222" stroke-width="1.3"/>
<line x1="165.3" y1="782.2" x2="165.3" y2="793" stroke="#333" stroke-width="1.0"/>
<rect x="70.5" y="813.6" width="7" height="7" fill="#fff" stroke="#2a2a2a" stroke-width="1.1"/>
<rect x="85.7" y="795.5" width="7" height="7" fill="#fff" stroke="#2a2a2a" stroke-width="1.1"/>
<rect x="100.9" y="808.2" width="7" height="7" fill="#fff" stroke="#2a2a2a" stroke-width="1.1"/>
<rect x="161.8" y="778.9" width="7" height="7" fill="#fff" stroke="#2a2a2a" stroke-width="1.1"/>
<rect x="268.2" y="796.1" width="7" height="7" fill="#fff" stroke="#2a2a2a" stroke-width="1.1"/>
<polyline points="74,817.1 89.2,799 104.4,811.7 165.3,782.4 271.7,799.6" fill="none" stroke="#000" stroke-width="2" stroke-linejoin="round"/>
<polyline points="74,829.2 89.2,822 104.4,827.8 165.3,794.1 271.7,772.9" fill="none" stroke="#000" stroke-width="2" stroke-linejoin="round"/>
<polygon points="74,825.2 69.9,833.2 78.1,833.2" fill="#000"/>
<polygon points="89.2,818 85.1,826 93.3,826" fill="#000"/>
<polygon points="104.4,823.8 100.3,831.8 108.5,831.8" fill="#000"/>
<polygon points="165.3,790.1 161.2,798.1 169.4,798.1" fill="#000"/>
<polygon points="271.7,768.9 267.6,776.9 275.8,776.9" fill="#000"/>
<text x="93.7" y="716.9" class="ti" textLength="164.6" lengthAdjust="spacingAndGlyphs">CD4<tspan class="sp" dy="-4">+</tspan><tspan dy="4">CD25</tspan><tspan class="sp" dy="-4">+</tspan><tspan dy="4"> Splenic T cells</tspan></text>
<g stroke="#505050" stroke-width="1.3" fill="none">
<path d="M379 722.7 V882.6"/>
<path d="M410 878.6 V882.6"/>
<path d="M441 878.6 V882.6"/>
<path d="M472 878.6 V882.6"/>
<path d="M503 878.6 V882.6"/>
<path d="M534 878.6 V882.6"/>
<path d="M565 878.6 V882.6"/>
<path d="M596 878.6 V882.6"/>
</g>
<g stroke="#4a4a4a" stroke-width="1.3" fill="none">
<path d="M375.5 878.6 H611"/>
<path d="M375.5 852.62 H379"/>
<path d="M375.5 826.63 H379"/>
<path d="M375.5 800.65 H379"/>
<path d="M375.5 774.67 H379"/>
<path d="M375.5 748.68 H379"/>
<path d="M375.5 722.7 H379"/>
</g>
<text x="365.8" y="884" text-anchor="end" class="tk" style="font-size:10.5px">0</text>
<text x="365.8" y="858.02" text-anchor="end" class="tk" style="font-size:10.5px">5</text>
<text x="365.8" y="832.03" text-anchor="end" class="tk" style="font-size:10.5px">10</text>
<text x="365.8" y="806.05" text-anchor="end" class="tk" style="font-size:10.5px">15</text>
<text x="365.8" y="780.07" text-anchor="end" class="tk" style="font-size:10.5px">20</text>
<text x="365.8" y="754.08" text-anchor="end" class="tk" style="font-size:10.5px">25</text>
<text x="365.8" y="728.1" text-anchor="end" class="tk" style="font-size:10.5px">30</text>
<text x="379.2" y="902.2" text-anchor="middle" class="tk" style="font-size:10.5px">0</text>
<text x="410.2" y="902.2" text-anchor="middle" class="tk" style="font-size:10.5px">2</text>
<text x="441.2" y="902.2" text-anchor="middle" class="tk" style="font-size:10.5px">4</text>
<text x="472.2" y="902.2" text-anchor="middle" class="tk" style="font-size:10.5px">6</text>
<text x="503.2" y="902.2" text-anchor="middle" class="tk" style="font-size:10.5px">8</text>
<text x="534.2" y="902.2" text-anchor="middle" class="tk" style="font-size:10.5px">10</text>
<text x="565.2" y="902.2" text-anchor="middle" class="tk" style="font-size:10.5px">12</text>
<text x="596.2" y="902.2" text-anchor="middle" class="tk" style="font-size:10.5px">14</text>
<line x1="410.3" y1="783.2" x2="410.3" y2="773.3" stroke="#333" stroke-width="1.0"/><line x1="407.8" y1="773.3" x2="412.8" y2="773.3" stroke="#222" stroke-width="1.3"/>
<line x1="487.8" y1="807.1" x2="487.8" y2="786.8" stroke="#333" stroke-width="1.0"/><line x1="485.3" y1="786.8" x2="490.3" y2="786.8" stroke="#222" stroke-width="1.3"/>
<line x1="596.5" y1="800.8" x2="596.5" y2="797" stroke="#333" stroke-width="1.0"/><line x1="594" y1="797" x2="599" y2="797" stroke="#222" stroke-width="1.3"/>
<line x1="394" y1="821.7" x2="394" y2="815.2" stroke="#333" stroke-width="1.0"/><line x1="391.5" y1="815.2" x2="396.5" y2="815.2" stroke="#222" stroke-width="1.3"/>
<line x1="425.2" y1="852.5" x2="425.2" y2="843.6" stroke="#333" stroke-width="1.0"/><line x1="422.7" y1="843.6" x2="427.7" y2="843.6" stroke="#222" stroke-width="1.3"/>
<line x1="487.8" y1="843.8" x2="487.8" y2="837.5" stroke="#333" stroke-width="1.0"/><line x1="485.3" y1="837.5" x2="490.3" y2="837.5" stroke="#222" stroke-width="1.3"/>
<line x1="596.5" y1="745.5" x2="596.5" y2="738.9" stroke="#333" stroke-width="1.0"/><line x1="594" y1="738.9" x2="599" y2="738.9" stroke="#222" stroke-width="1.3"/>
<rect x="390.5" y="791.4" width="7" height="7" fill="#fff" stroke="#2a2a2a" stroke-width="1.1"/>
<rect x="406.8" y="779.7" width="7" height="7" fill="#fff" stroke="#2a2a2a" stroke-width="1.1"/>
<rect x="421.7" y="808.8" width="7" height="7" fill="#fff" stroke="#2a2a2a" stroke-width="1.1"/>
<rect x="484.3" y="803.6" width="7" height="7" fill="#fff" stroke="#2a2a2a" stroke-width="1.1"/>
<rect x="593" y="797.3" width="7" height="7" fill="#fff" stroke="#2a2a2a" stroke-width="1.1"/>
<polyline points="394,794.9 410.3,783.2 425.2,812.3 487.8,807.1 596.5,800.8" fill="none" stroke="#000" stroke-width="2" stroke-linejoin="round"/>
<polyline points="394,821.7 410.3,853.8 425.2,852.5 487.8,843.8 596.5,745.5" fill="none" stroke="#000" stroke-width="2" stroke-linejoin="round"/>
<polygon points="394,817.7 389.9,825.7 398.1,825.7" fill="#000"/>
<polygon points="410.3,849.8 406.2,857.8 414.4,857.8" fill="#000"/>
<polygon points="425.2,848.5 421.1,856.5 429.3,856.5" fill="#000"/>
<polygon points="487.8,839.8 483.7,847.8 491.9,847.8" fill="#000"/>
<polygon points="596.5,741.5 592.4,749.5 600.6,749.5" fill="#000"/>
<polygon points="393.5,776.9 394.65,779.22 397.21,779.59 395.35,781.4 395.79,783.96 393.5,782.75 391.21,783.96 391.65,781.4 389.79,779.59 392.35,779.22" fill="#000"/>
<polygon points="410.9,759.7 412.05,762.02 414.61,762.39 412.75,764.2 413.19,766.76 410.9,765.55 408.61,766.76 409.05,764.2 407.19,762.39 409.75,762.02" fill="#000"/>
<polygon points="429.7,796.4 430.85,798.72 433.41,799.09 431.55,800.9 431.99,803.46 429.7,802.25 427.41,803.46 427.85,800.9 425.99,799.09 428.55,798.72" fill="#000"/>
<polygon points="487.8,774.1 488.95,776.42 491.51,776.79 489.65,778.6 490.09,781.16 487.8,779.95 485.51,781.16 485.95,778.6 484.09,776.79 486.65,776.42" fill="#000"/>
<polygon points="597.2,726.3 598.35,728.62 600.91,728.99 599.05,730.8 599.49,733.36 597.2,732.15 594.91,733.36 595.35,730.8 593.49,728.99 596.05,728.62" fill="#000"/>
<text x="411.4" y="719.9" class="ti" textLength="158.9" lengthAdjust="spacingAndGlyphs">B220<tspan class="sp" dy="-4">+</tspan><tspan dy="4">IgM</tspan><tspan class="sp" dy="-4">+</tspan><tspan dy="4"> Splenic B cells</tspan></text>
<text transform="translate(29 98.75) rotate(-90)" text-anchor="middle" class="yl" style="font-size:14px" textLength="122.4" lengthAdjust="spacingAndGlyphs">Cell number (x10<tspan style="font-size:8.5px" dy="-4">4</tspan><tspan dy="4">)</tspan></text>
<text transform="translate(21.9 334.45) rotate(-90)" text-anchor="middle" class="yl" style="font-size:14px" textLength="121.2" lengthAdjust="spacingAndGlyphs">Cell number (x10<tspan style="font-size:8.5px" dy="-4">4</tspan><tspan dy="4">)</tspan></text>
<text transform="translate(11.7 591.8) rotate(-90)" text-anchor="middle" class="yl" style="font-size:14px" textLength="121.7" lengthAdjust="spacingAndGlyphs">Cell number (x10<tspan style="font-size:10px" dy="-3">5</tspan><tspan dy="3">)</tspan></text>
<text transform="translate(11.2 797.2) rotate(-90)" text-anchor="middle" class="yl" style="font-size:13.5px" textLength="117.9" lengthAdjust="spacingAndGlyphs">Cell number (x10<tspan style="font-size:8.5px" dy="-4">5</tspan><tspan dy="4">)</tspan></text>
<text transform="translate(325.6 799.6) rotate(-90)" text-anchor="middle" class="yl" style="font-size:13.5px" textLength="118.3" lengthAdjust="spacingAndGlyphs">Cell number (x10<tspan style="font-size:8.5px" dy="-4">4</tspan><tspan dy="4">)</tspan></text>
<line x1="43.3" y1="27.9" x2="43.3" y2="168" stroke="#000" stroke-width="2"/><polygon points="43.3,21.9 39.2,29.9 47.4,29.9" fill="#000"/>
<line x1="35.6" y1="264.1" x2="35.6" y2="411.2" stroke="#000" stroke-width="2"/><polygon points="35.6,258.1 31.5,266.1 39.7,266.1" fill="#000"/>
<line x1="25.6" y1="521.4" x2="25.6" y2="668.3" stroke="#000" stroke-width="2"/><polygon points="25.6,515.4 21.5,523.4 29.7,523.4" fill="#000"/>
<line x1="25.6" y1="722.8" x2="25.6" y2="878.5" stroke="#000" stroke-width="2"/><polygon points="25.6,716.8 21.5,724.8 29.7,724.8" fill="#000"/>
<line x1="339.8" y1="724.1" x2="339.8" y2="879.6" stroke="#000" stroke-width="2"/><polygon points="339.8,718.1 335.7,726.1 343.9,726.1" fill="#000"/>
<line x1="72.6" y1="448.7" x2="564" y2="448.7" stroke="#000" stroke-width="2"/><polygon points="570,448.7 562,444.5 562,452.9" fill="#000"/>
<line x1="62.2" y1="911.6" x2="574.8" y2="911.6" stroke="#000" stroke-width="2"/><polygon points="580.8,911.6 572.8,907.4 572.8,915.8" fill="#000"/>
<text x="282.8" y="469.8" class="tt" textLength="74.2" lengthAdjust="spacingAndGlyphs">Time (days)</text>
<text x="279.4" y="933.2" class="tt" textLength="74.8" lengthAdjust="spacingAndGlyphs">Time (days)</text>
<rect x="402.8" y="305.7" width="8.5" height="8.7" fill="#fff" stroke="#000" stroke-width="1.3"/>
<text x="420.5" y="315" class="lg" textLength="25.8" lengthAdjust="spacingAndGlyphs">PBS</text>
<polygon points="407,329 402.6,337.6 411.4,337.6" fill="#000"/>
<text x="420.5" y="337.8" class="lg" textLength="67.7" lengthAdjust="spacingAndGlyphs">Bortezomib</text>
</svg>
</body></html>
